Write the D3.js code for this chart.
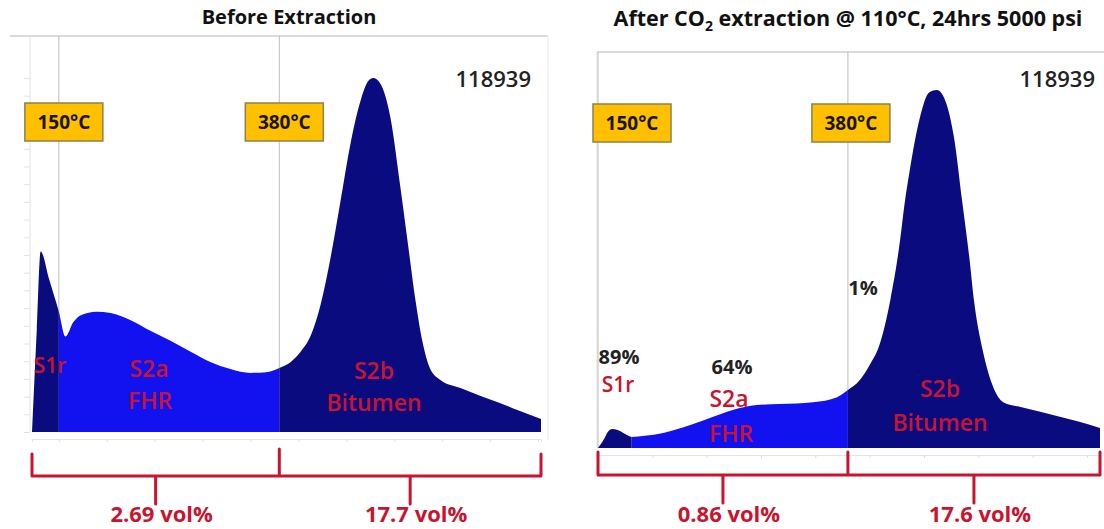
<!DOCTYPE html>
<html>
<head>
<meta charset="utf-8">
<script src="https://cdn.jsdelivr.net/npm/d3@7"></script>
<style>
  body { margin: 0; background: #fff; }
  svg { display: block; }
  text { font-family: "Open Sans", "DejaVu Sans", sans-serif; }
</style>
</head>
<body>
<svg id="chart" width="1104" height="529"></svg>
<script>
// Pyrolysis programme markers and sample id
const tempMarks = [150, 380];
const tempMarkLabels = ["150°C", "380°C"];
const sampleId = "118939";

// Before extraction: temperature (°C) vs. relative FID signal
const beforeTemp   = [122, 127, 131, 140, 150, 157, 165, 173, 189, 204, 225, 246, 267, 288, 308, 329, 350, 366, 380, 392, 402, 413, 423, 433, 444, 454, 465, 473, 478, 485, 496, 506, 515, 522, 529, 537, 548, 569, 590, 610, 631, 653];
const beforeSignal = [0, 29, 51, 43, 34, 27, 31, 33, 34, 33.6, 31.6, 28.5, 25.7, 22.6, 19.8, 17.8, 16.7, 16.9, 18.1, 19.8, 22.6, 27.4, 35.9, 48.6, 65.5, 81.1, 93.8, 99.2, 100, 98.6, 88.7, 69.8, 51.4, 37.3, 26, 18.1, 14.7, 12.4, 10.2, 8.2, 5.9, 3.7];
const beforeCuts = [150, 380];

// After CO2 extraction
const afterTemp   = [150, 155, 159, 163, 168, 175, 181, 193, 210, 235, 256, 274, 296, 317, 348, 370, 380, 391, 400, 409, 419, 428, 432, 437, 446, 455, 462, 469, 478, 485, 492, 496, 504, 513, 523, 538, 557, 575, 593, 612];
const afterSignal = [0, 2.2, 4.5, 5.3, 5.0, 3.9, 3.1, 3.4, 4.2, 6.4, 8.7, 10.6, 12.0, 12.3, 12.8, 14.2, 16.2, 19, 23.2, 28.8, 41.3, 58, 67.9, 77.7, 92, 99.4, 100, 97.5, 86, 69.3, 52.5, 41.3, 27.4, 17.6, 12.8, 11.5, 10.1, 8.7, 7.3, 5.6];
const afterCuts = [181, 380];

const beforeVolumes = ["2.69 vol%", "17.7 vol%"];
const afterVolumes  = ["0.86 vol%", "17.6 vol%"];
const afterRecovery = ["89%", "64%", "1%"];

const peakNames = [["S1r"], ["S2a", "FHR"], ["S2b", "Bitumen"]];

const DARK = "#0b0b80", BRIGHT = "#1212f0", RED = "#c8142e", INK = "#222";

const panels = [
  { id: "before", title: [{ t: "Before Extraction" }], titleX: 289, titleSize: 20,
    temp: beforeTemp, signal: beforeSignal, cuts: beforeCuts,
    xr: [32, 541], yr: [432, 78], top: 36, frameL: 10, frameR: 548,
    braceFrom: beforeTemp[0], braceTop: 454, braceJoin: 449, braceH: 476, braceBot: 504,
    volumes: beforeVolumes, boxDx: [5, 5], boxY: 103, idX: 531 },
  { id: "after", title: [{ t: "After CO" }, { t: "2", sub: true }, { t: " extraction @ 110°C, 24hrs 5000 psi" }], titleX: 848, titleSize: 21.5,
    temp: afterTemp, signal: afterSignal, cuts: afterCuts,
    xr: [598, 1100], yr: [448, 90], top: 52, frameL: 597, frameR: 1104,
    braceFrom: 150, braceTop: 452, braceJoin: 452, braceH: 475, braceBot: 503,
    volumes: afterVolumes, boxDx: [34, 3], boxY: 104, idX: 1095 }
];

const svg = d3.select("#chart");
const defs = svg.append("defs");

panels.forEach((p, pi) => {
  const tEnd = p.temp[p.temp.length - 1];
  const x = d3.scaleLinear().domain([p.temp[0], tEnd]).range(p.xr);
  const y = d3.scaleLinear().domain([0, 100]).range(p.yr);
  const base = y(0);
  const g = svg.append("g").attr("class", p.id);

  // title
  const title = g.append("text").attr("x", p.titleX).attr("y", pi === 0 ? 24 : 26)
    .attr("text-anchor", "middle").attr("font-size", p.titleSize).attr("font-weight", 700).attr("fill", "#111");
  p.title.forEach(s => {
    const ts = title.append("tspan").text(s.t);
    if (s.sub) ts.attr("font-size", 14).attr("dy", 5);
    else if (title.selectAll("tspan").size() > 1) ts.attr("dy", -5);
  });

  // light chart frame
  g.append("line").attr("x1", p.frameL).attr("x2", p.frameR).attr("y1", p.top).attr("y2", p.top)
    .attr("stroke", "#cfcfcf").attr("stroke-width", 1.5);
  g.append("line").attr("x1", p.frameL + (pi === 0 ? 20 : 0)).attr("x2", p.frameL + (pi === 0 ? 20 : 0))
    .attr("y1", p.top).attr("y2", base).attr("stroke", "#e2e2e2");
  if (pi === 0) {
    g.append("line").attr("x1", p.frameR).attr("x2", p.frameR).attr("y1", p.top).attr("y2", base + 8)
      .attr("stroke", "#e6e6e6");
    const ya = d3.axisLeft(y).ticks(20).tickSize(6).tickFormat("");
    const ax = g.append("g").attr("transform", `translate(${p.frameL + 20},0)`).call(ya);
    ax.selectAll("line").attr("stroke", "#dde3f0");
    ax.select(".domain").remove();
  }

  // temperature marker lines
  tempMarks.forEach(t => {
    g.append("line").attr("x1", x(t)).attr("x2", x(t)).attr("y1", p.top).attr("y2", base)
      .attr("stroke", "#bdbdbd").attr("stroke-width", 1);
  });

  // faint baseline axis
  const xa = d3.axisBottom(x).ticks(10).tickSize(3).tickFormat("");
  const axg = g.append("g").attr("transform", `translate(0,${base + 7})`).call(xa);
  axg.selectAll("line").attr("stroke", "#dcdcdc");
  axg.select(".domain").attr("stroke", "#e4e4e4");

  // pyrogram area, split into the three temperature windows
  const pts = p.temp.map((t, i) => [t, p.signal[i]]);
  const area = d3.area().x(d => x(d[0])).y0(base).y1(d => y(d[1])).curve(d3.curveMonotoneX);
  const bounds = [p.temp[0], ...p.cuts, tEnd];
  const fills = [DARK, BRIGHT, DARK];
  fills.forEach((f, i) => {
    const cid = `clip-${p.id}-${i}`;
    defs.append("clipPath").attr("id", cid).append("rect")
      .attr("x", x(bounds[i])).attr("width", x(bounds[i + 1]) - x(bounds[i]))
      .attr("y", 0).attr("height", 529);
    g.append("path").datum(pts).attr("d", area).attr("fill", f).attr("clip-path", `url(#${cid})`);
  });

  // temperature boxes
  tempMarks.forEach((t, i) => {
    const cx = x(t) + p.boxDx[i];
    g.append("rect").attr("x", cx - 39).attr("y", p.boxY).attr("width", 78).attr("height", 38)
      .attr("fill", "#ffc000").attr("stroke", "#8f8050").attr("stroke-width", 1.5);
    g.append("text").attr("x", cx).attr("y", p.boxY + 26).attr("text-anchor", "middle")
      .attr("font-size", 19).attr("font-weight", 700).attr("fill", "#1a1400").text(tempMarkLabels[i]);
  });

  // sample id
  g.append("text").attr("x", p.idX).attr("y", 87).attr("text-anchor", "end")
    .attr("font-size", 22).attr("font-weight", 600).attr("fill", INK).text(sampleId);

  // braces under the temperature windows
  const segs = [[p.braceFrom, 380], [380, tEnd]];
  const bp = d3.path();
  bp.moveTo(x(segs[0][0]), p.braceTop); bp.lineTo(x(segs[0][0]), p.braceH);
  bp.lineTo(x(tEnd), p.braceH); bp.lineTo(x(tEnd), p.braceTop);
  bp.moveTo(x(380), p.braceJoin); bp.lineTo(x(380), p.braceH);
  segs.forEach(s => {
    const m = (x(s[0]) + x(s[1])) / 2;
    bp.moveTo(m, p.braceH); bp.lineTo(m, p.braceBot);
  });
  g.append("path").attr("d", bp.toString()).attr("fill", "none").attr("stroke", RED)
    .attr("stroke-width", 3).attr("stroke-linejoin", "round").attr("stroke-linecap", "round");
  segs.forEach((s, i) => {
    const m = (x(s[0]) + x(s[1])) / 2;
    g.append("text").attr("x", m + 6).attr("y", 522).attr("text-anchor", "middle")
      .attr("font-size", 22).attr("font-weight", 700).attr("fill", RED).text(p.volumes[i]);
  });
});

// peak labels, positioned on each panel
function label(px, py, txt, color, size, weight) {
  svg.append("text").attr("x", px).attr("y", py).attr("text-anchor", "middle")
    .attr("font-size", size).attr("font-weight", weight).attr("fill", color).text(txt);
}
// before
label(50, 373, peakNames[0][0], RED, 21, 600);
label(149, 377, peakNames[1][0], RED, 23, 600);
label(150, 409, peakNames[1][1], RED, 23, 600);
label(374, 379, peakNames[2][0], RED, 23, 600);
label(374, 411, peakNames[2][1], RED, 23, 600);
// after
label(619, 364, afterRecovery[0], INK, 20, 700);
label(618, 392, peakNames[0][0], RED, 21, 600);
label(732, 374, afterRecovery[1], INK, 20, 700);
label(729, 407, peakNames[1][0], RED, 23, 600);
label(731, 442, peakNames[1][1], RED, 23, 600);
label(863, 295, afterRecovery[2], INK, 20, 700);
label(940, 397, peakNames[2][0], RED, 23, 600);
label(940, 431, peakNames[2][1], RED, 23, 600);
</script>
</body>
</html>
